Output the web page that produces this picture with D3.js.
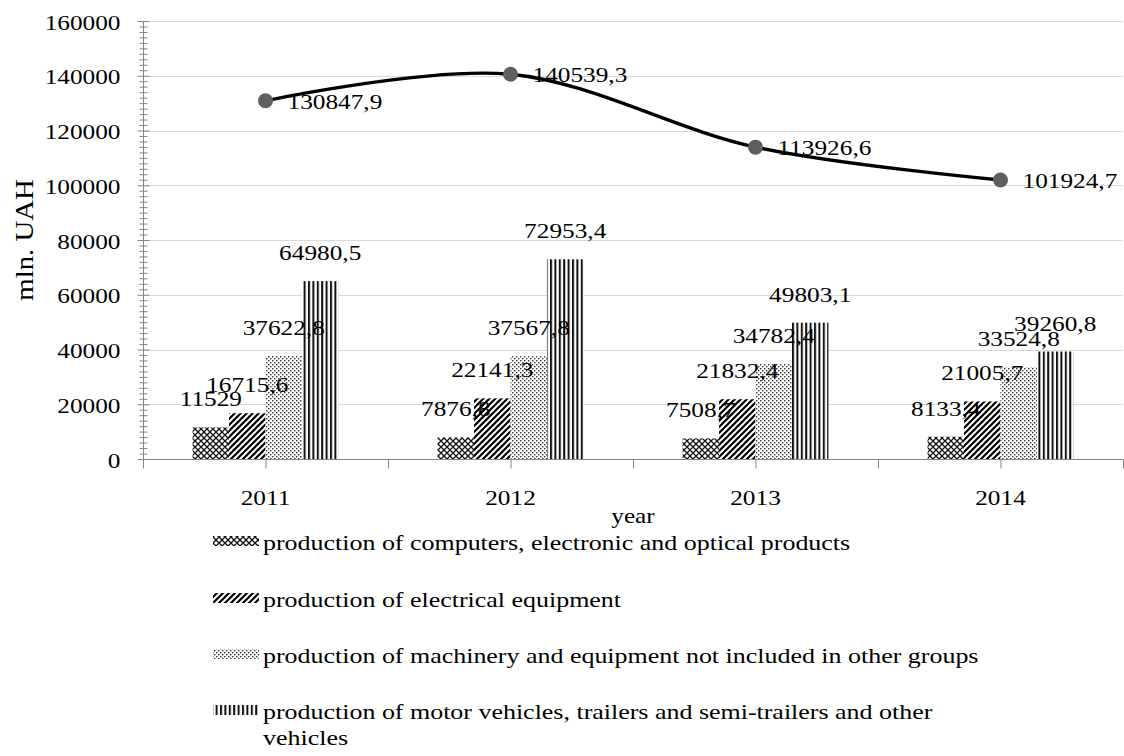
<!DOCTYPE html>
<html>
<head>
<meta charset="utf-8">
<script src="https://cdn.jsdelivr.net/npm/d3@7/dist/d3.min.js"></script>
<style>
  html, body { margin: 0; padding: 0; background: #fff; }
  svg { display: block; }
  text { font-family: "Liberation Serif", "Times New Roman", serif; fill: #000; }
</style>
</head>
<body>
<svg id="chart" width="1124" height="756"></svg>
<script>
// ---- data ----
const years = ["2011", "2012", "2013", "2014"];
const seriesNames = [
  "production of computers, electronic and optical products",
  "production of electrical equipment",
  "production of machinery and equipment not included in other groups",
  "production of motor vehicles, trailers and semi-trailers and other vehicles"
];
const computers = [11529, 7876.8, 7508.7, 8133.4];
const electrical = [16715.6, 22141.3, 21832.4, 21005.7];
const machinery = [37622.8, 37567.8, 34782.4, 33524.8];
const vehicles = [64980.5, 72953.4, 49803.1, 39260.8];
const total = [130847.9, 140539.3, 113926.6, 101924.7];
const yTicks = [0, 20000, 40000, 60000, 80000, 100000, 120000, 140000, 160000];

const seriesValues = [computers, electrical, machinery, vehicles];
const patternIds = ["pat-checker", "pat-diag", "pat-dots", "pat-vert"];

// ---- layout ----
const plotL = 143, plotR = 1123, plotT = 21, plotB = 459;
const SX = 1.15;          // horizontal stretch of glyphs
const FS = 22;            // font size

const svg = d3.select("#chart");
const fmt = v => Number.isInteger(v) ? String(v) : v.toFixed(1).replace(".", ",");

// ---- fill patterns ----
const defs = svg.append("defs");
{
  const p = defs.append("pattern").attr("id", "pat-checker").attr("patternUnits", "userSpaceOnUse")
    .attr("width", 6).attr("height", 6);
  p.append("rect").attr("width", 6).attr("height", 6).attr("fill", "#fff");
  p.append("path").attr("d", "M0,0L6,6M6,0L0,6M-3,3L3,9M3,-3L9,3M-3,3L3,-3M3,9L9,3")
    .attr("stroke", "#111").attr("stroke-width", 1.3).attr("fill", "none");
}
{
  const p = defs.append("pattern").attr("id", "pat-diag").attr("patternUnits", "userSpaceOnUse")
    .attr("width", 6).attr("height", 6);
  p.append("rect").attr("width", 6).attr("height", 6).attr("fill", "#fff");
  p.append("path").attr("d", "M-1,7L7,-1M-4,4L4,-4M2,10L10,2")
    .attr("stroke", "#000").attr("stroke-width", 2.2).attr("fill", "none");
}
{
  const p = defs.append("pattern").attr("id", "pat-dots").attr("patternUnits", "userSpaceOnUse")
    .attr("width", 4).attr("height", 4);
  p.append("rect").attr("width", 4).attr("height", 4).attr("fill", "#fff");
  p.append("rect").attr("x", 0).attr("y", 0).attr("width", 1.4).attr("height", 1.4).attr("fill", "#333");
  p.append("rect").attr("x", 2).attr("y", 2).attr("width", 1.4).attr("height", 1.4).attr("fill", "#333");
}
{
  const p = defs.append("pattern").attr("id", "pat-vert").attr("patternUnits", "userSpaceOnUse")
    .attr("width", 4.4).attr("height", 4);
  p.append("rect").attr("width", 4.4).attr("height", 4).attr("fill", "#fff");
  p.append("rect").attr("x", 0).attr("y", 0).attr("width", 2).attr("height", 4).attr("fill", "#111");
}

// ---- scales ----
const y = d3.scaleLinear().domain([0, 160000]).range([plotB, plotT]);
const x0 = d3.scaleBand().domain(years).range([plotL, plotR]).paddingInner(0).paddingOuter(0);
const x1 = d3.scaleBand().domain(d3.range(seriesNames.length)).range([0, x0.bandwidth()])
  .paddingInner(0).paddingOuter(1.36);
const slot = d3.scaleLinear().domain([0, years.length]).range([plotL, plotR]);

// stretched text helper
function label(g, x, yy, str, anchor, size, sx) {
  return g.append("text")
    .attr("transform", `translate(${x},${yy}) scale(${sx || SX},1)`)
    .attr("text-anchor", anchor || "start")
    .attr("font-size", size || FS)
    .text(str);
}

// ---- gridlines ----
svg.append("g").selectAll("line").data(yTicks.filter(d => d > 0)).join("line")
  .attr("x1", plotL).attr("x2", plotR)
  .attr("y1", d => Math.round(y(d)) + 0.5).attr("y2", d => Math.round(y(d)) + 0.5)
  .attr("stroke", "#d9d9d9").attr("stroke-width", 1);

// ---- bars ----
const barG = svg.append("g");
seriesValues.forEach((vals, si) => {
  barG.append("g").selectAll("rect").data(vals).join("rect")
    .attr("x", (d, i) => x0(years[i]) + x1(si))
    .attr("width", x1.bandwidth())
    .attr("y", d => y(d))
    .attr("height", d => y(0) - y(d))
    .attr("fill", `url(#${patternIds[si]})`);
});

// ---- axes ----
const axisColor = "#868686";
// y axis major ticks (crossing the axis line)
const yAxisG = svg.append("g").attr("transform", `translate(${plotL + 0.5},0)`)
  .call(d3.axisLeft(y).tickValues(yTicks).tickSize(6).tickPadding(0).tickFormat(d => d));
yAxisG.select(".domain").attr("stroke", axisColor).attr("d", `M0,${plotT}V${plotB}`);
yAxisG.selectAll(".tick line").attr("stroke", axisColor).attr("x1", 6);
yAxisG.selectAll(".tick text")
  .attr("x", null).attr("dy", null)
  .attr("transform", `translate(-23,8) scale(${SX},1)`)
  .attr("text-anchor", "end")
  .attr("font-size", FS)
  .attr("fill", "#000");
// y axis minor ticks
const minorVals = d3.range(0, 160001, 2000).filter(v => v % 20000 !== 0);
const yMinorG = svg.append("g").attr("transform", `translate(${plotL + 0.5},0)`)
  .call(d3.axisLeft(y).tickValues(minorVals).tickSize(4).tickFormat(""));
yMinorG.select(".domain").remove();
yMinorG.selectAll(".tick line").attr("stroke", axisColor).attr("x1", 4);

// x axis: ticks at category centres and boundaries
const xTickG = svg.append("g").attr("transform", `translate(0,${plotB + 0.5})`)
  .call(d3.axisBottom(slot).tickValues(d3.range(0, years.length + 0.01, 0.5)).tickSize(9).tickFormat(""));
xTickG.select(".domain").attr("stroke", axisColor).attr("d", `M${plotL},0H${plotR}`);
xTickG.selectAll(".tick line").attr("stroke", axisColor);
// category labels
const xLabG = svg.append("g").attr("transform", `translate(0,${plotB})`)
  .call(d3.axisBottom(x0).tickSize(0).tickPadding(0));
xLabG.select(".domain").remove();
xLabG.selectAll(".tick text")
  .attr("y", null).attr("dy", null)
  .attr("transform", `translate(0,46) scale(${SX},1)`)
  .attr("font-size", FS)
  .attr("fill", "#000");

// axis titles
const titleG = svg.append("g");
titleG.append("text")
  .attr("transform", `translate(33,${(plotT + plotB) / 2}) rotate(-90) scale(${SX},1)`)
  .attr("text-anchor", "middle").attr("font-size", 25)
  .text("mln. UAH");
label(titleG, (plotL + plotR) / 2, 523, "year", "middle");

// ---- bar value labels ----
const barLabG = svg.append("g");
seriesValues.forEach((vals, si) => {
  vals.forEach((v, i) => {
    label(barLabG, x0(years[i]) + x1(si) + x1.bandwidth() / 2, y(v) - 21, fmt(v), "middle");
  });
});

// ---- total line ----
const lineGen = d3.line()
  .x((d, i) => x0(years[i]) + x0.bandwidth() / 2)
  .y(d => y(d))
  .curve(d3.curveCardinal.tension(0));
svg.append("path").datum(total)
  .attr("d", lineGen)
  .attr("fill", "none").attr("stroke", "#000").attr("stroke-width", 3.4);
svg.append("g").selectAll("circle").data(total).join("circle")
  .attr("cx", (d, i) => x0(years[i]) + x0.bandwidth() / 2)
  .attr("cy", d => y(d))
  .attr("r", 7.5)
  .attr("fill", "#5f5f5f");
const lineLabG = svg.append("g");
total.forEach((v, i) => {
  label(lineLabG, x0(years[i]) + x0.bandwidth() / 2 + 22, y(v) + 8, fmt(v), "start");
});

// ---- legend ----
const legG = svg.append("g");
const legRows = [550, 607, 663, 719];
const LSX = 1.18;
seriesNames.forEach((name, si) => {
  const by = legRows[si];
  legG.append("rect")
    .attr("x", 213).attr("y", by - 14).attr("width", 46).attr("height", 10)
    .attr("fill", `url(#${patternIds[si]})`);
});
label(legG, 263, legRows[0], seriesNames[0], "start", FS, LSX);
label(legG, 263, legRows[1], seriesNames[1], "start", FS, LSX);
label(legG, 263, legRows[2], seriesNames[2], "start", FS, LSX);
label(legG, 263, legRows[3], "production of motor vehicles, trailers and semi-trailers and other", "start", FS, LSX);
label(legG, 263, legRows[3] + 26, "vehicles", "start", FS, LSX);
</script>
</body>
</html>
